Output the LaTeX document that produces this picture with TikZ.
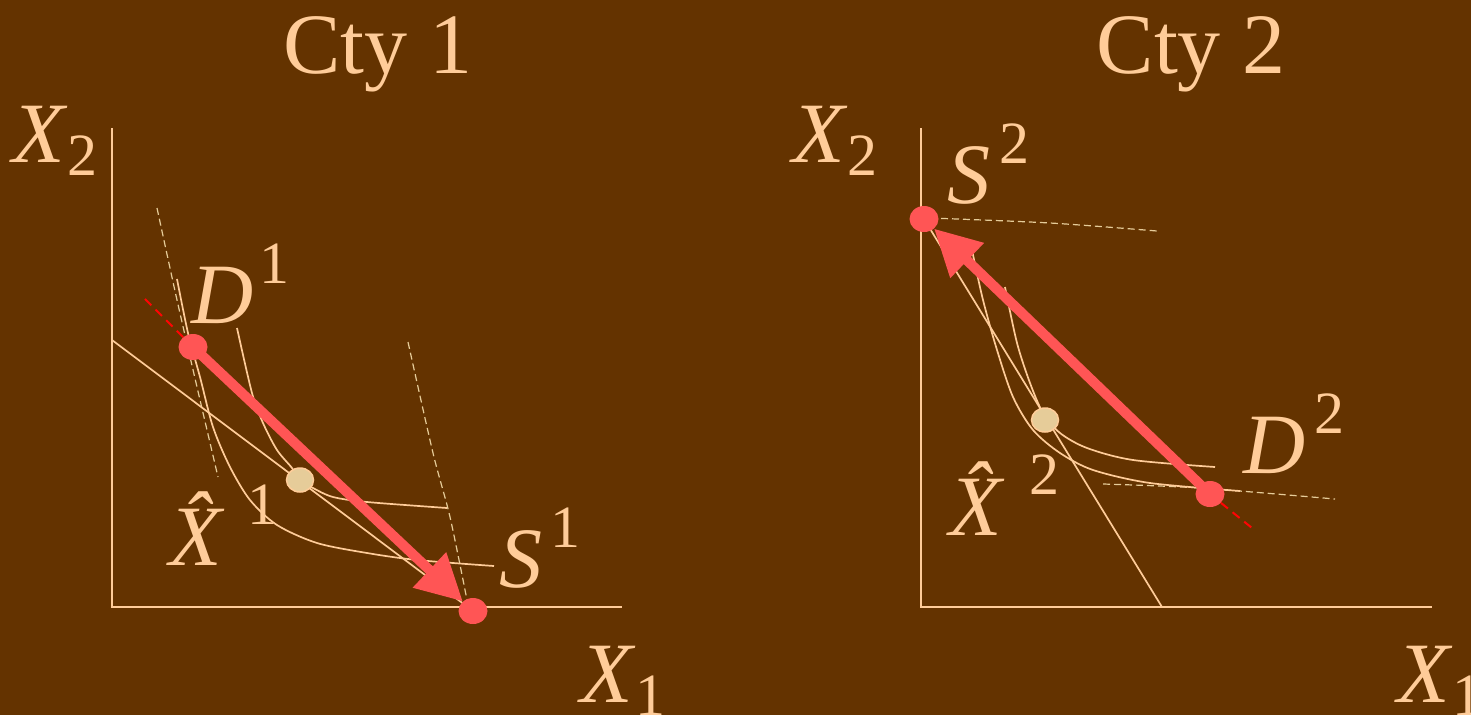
\documentclass[tikz,border=0pt]{standalone}
\usepackage{fontspec}
\setmainfont{Liberation Serif}
\usetikzlibrary{arrows.meta,shapes.geometric}
\definecolor{SlideBrown}{RGB}{100,51,0}
\definecolor{Peach}{RGB}{255,204,153}
\definecolor{DotRed}{RGB}{255,85,85}
\definecolor{DotBeige}{RGB}{230,204,153}

\begin{document}
\begin{tikzpicture}[
  x=1pt, y=-1pt,
  >={Triangle[length=46pt,width=46pt]},
  axis/.style={draw=Peach, line width=2pt},
  icurve/.style={draw=Peach, line width=1.7pt},
  dcurve/.style={draw=DotBeige, line width=1.2pt, dash pattern=on 7pt off 4pt},
  budget/.style={draw=Peach, line width=1.7pt},
  trade/.style={->, DotRed, line width=10pt},
  extend/.style={draw=red!95!DotRed, line width=2pt, dash pattern=on 9pt off 6pt},
  endpt/.style={ellipse, fill=DotRed, minimum width=29pt, minimum height=26pt, inner sep=0pt},
  opt/.style={ellipse, fill=DotBeige, draw=Peach, line width=1.5pt, minimum width=27pt, minimum height=24pt, inner sep=0pt},
  lbl/.style={text=Peach, inner sep=0pt, font=\fontsize{86}{90}\selectfont},
]

% ============ CANVAS ============
\fill[SlideBrown] (0,0) rectangle (1471,715);
\useasboundingbox (0,0) rectangle (1471,715);

% ============ COUNTRY 1 (left) ============
\coordinate (d1) at (193,347);
\coordinate (s1) at (473,611);
\coordinate (x1) at (300,480);
\coordinate (ext1) at (143,297);

\draw[axis] (112,128) -- (112,607) -- (622,607);
\node[lbl, anchor=base] (title1) at (378,73) {Cty 1};
\node[lbl, anchor=base west] (ylab1) at (12,162) {\textit{X}\raisebox{-13pt}{\fontsize{60}{60}\selectfont 2}};
\node[lbl, anchor=base west] (xlab1) at (580,702) {\textit{X}\raisebox{-13pt}{\fontsize{60}{60}\selectfont 1}};

% dashed curves
\draw[dcurve] plot[smooth] coordinates {(157,208) (177,300) (197,387) (218,477)};
\draw[dcurve] plot[smooth] coordinates {(408,342) (433,453) (450,517) (467,600)};
% budget line
\draw[budget] (112,340) -- (s1);
% indifference curves
\draw[icurve] plot[smooth] coordinates {(237,328) (252,393) (263,423) (277,450) (292,468) (300,480)
  (313,488) (333,497) (367,502) (447,508)};
\draw[icurve] plot[smooth] coordinates {(177,279) (188,333) (200,377) (213,427) (230,467) (250,500)
  (277,525) (317,543) (367,553) (417,560) (494,566)};

\node[opt] (X1) at (x1) {};
\node[endpt] (D1) at (d1) {};
\node[endpt] (S1) at (s1) {};
\draw[extend] (D1) -- (ext1);
\draw[trade] (D1.center) -- (S1);

\node[lbl, anchor=base west] (dlab1) at (191,323) {\textit{D}\hspace{6pt}\raisebox{40pt}{\fontsize{60}{60}\selectfont 1}};
\node[lbl, anchor=base west] (xhat1) at (169,565) {\textit{\^X}\hspace{-6pt}\raisebox{41pt}{\fontsize{60}{60}\selectfont 1}};
\node[lbl, anchor=base west] (slab1) at (499,587) {\textit{S}\hspace{8pt}\raisebox{40pt}{\fontsize{60}{60}\selectfont 1}};

% ============ COUNTRY 2 (right) ============
\coordinate (d2) at (1210,494);
\coordinate (s2) at (924,219);
\coordinate (x2) at (1045,420);
\coordinate (ext2) at (1252,528);

\draw[axis] (921,128) -- (921,607) -- (1432,607);
\node[lbl, anchor=base] (title2) at (1191,73) {Cty 2};
\node[lbl, anchor=base west] (ylab2) at (792,162) {\textit{X}\raisebox{-13pt}{\fontsize{60}{60}\selectfont 2}};
\node[lbl, anchor=base west] (xlab2) at (1397,702) {\textit{X}\raisebox{-13pt}{\fontsize{60}{60}\selectfont 1}};

% dashed curves
\draw[dcurve] plot[smooth] coordinates {(930,218) (1050,223) (1157,231)};
\draw[dcurve] plot[smooth] coordinates {(1103,484) (1200,488) (1335,499)};
% budget line
\draw[budget] (s2) -- (1162,607);
% indifference curves
\draw[icurve] plot[smooth] coordinates {(1005,287) (1017,343) (1030,383) (1043,413) (1060,433)
  (1087,448) (1133,460) (1215,467)};
\draw[icurve] plot[smooth] coordinates {(972,250) (983,300) (997,350) (1013,397) (1033,430)
  (1060,453) (1093,470) (1150,483) (1240,491)};

\node[opt] (X2) at (x2) {};
\node[endpt] (D2) at (d2) {};
\node[endpt] (S2) at (s2) {};
\draw[extend] (D2) -- (ext2);
\draw[trade] (D2.center) -- (S2);

\node[lbl, anchor=base west] (slab2) at (947,203) {\textit{S}\hspace{9pt}\raisebox{40pt}{\fontsize{60}{60}\selectfont 2}};
\node[lbl, anchor=base west] (dlab2) at (1243,473) {\textit{D}\hspace{9pt}\raisebox{40pt}{\fontsize{60}{60}\selectfont 2}};
\node[lbl, anchor=base west] (xhat2) at (949,535) {\textit{\^X}\hspace{-4pt}\raisebox{41pt}{\fontsize{60}{60}\selectfont 2}};

\end{tikzpicture}
\end{document}
